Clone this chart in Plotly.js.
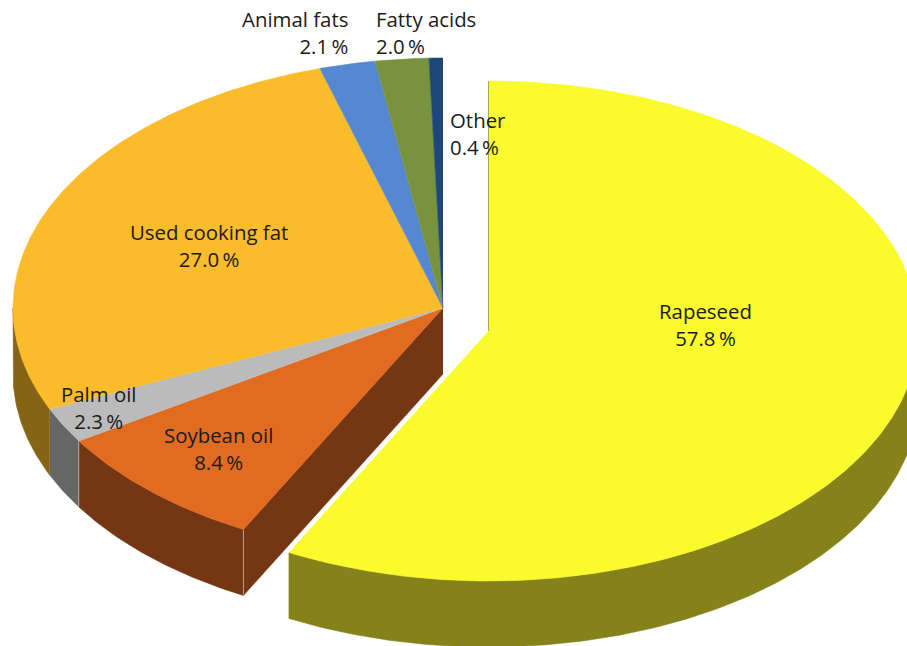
<!DOCTYPE html>
<html>
<head>
<meta charset="utf-8">
<script src="https://cdn.plot.ly/plotly-3.0.1.min.js"></script>
<style>html,body{margin:0;padding:0;background:#fff}#chart{width:907px;height:646px}</style>
</head>
<body>
<div id="chart"></div>
<script>
const categories = ["Rapeseed","Soybean oil","Palm oil","Used cooking fat","Animal fats","Fatty acids","Other"];
const shares = [57.8,8.4,2.3,27.0,2.1,2.0,0.4];
const topColors = ["#FAFA2C","#E06B21","#BBBBBB","#FBBC2B","#5588D0","#79923E","#1F4679"];
const sideColors = ["#85821A","#743613","#666666","#856416","#3A5F92","#556A2B","#14304F"];
const labelX = [705,218,98,209,349,375,449];
const labelY = [324,448,407,245,32,32,133];
const labelAlign = ["center","center","center","center","right","left","left"];

const W = 907, H = 646;
const RX = 430, RY = 250, DEPTH = 66;
const CENTER = {x:443, y:308};
const EXPLODED = {x:488.5, y:331};
const explodedIndex = 0;
const ROTATION = -0.0075;

const total = shares.reduce((a,b)=>a+b,0);
const pt = (c,a,dy=0)=>[c.x+RX*Math.sin(a), c.y-RY*Math.cos(a)+dy];

function arc(c,a0,a1,dy=0){
  const n = Math.max(2,Math.ceil(Math.abs(a1-a0)/0.01));
  const out=[];
  for(let i=0;i<=n;i++) out.push(pt(c,a0+(a1-a0)*i/n,dy));
  return out;
}
function poly(points,color,lw=0.6,lc){
  return {type:'scatter',mode:'lines',x:points.map(p=>p[0]),y:points.map(p=>p[1]),
    fill:'toself',fillcolor:color,line:{color:lc||color,width:lw},hoverinfo:'skip',showlegend:false};
}
function seg(p,q,color,w){
  return {type:'scatter',mode:'lines',x:[p[0],q[0]],y:[p[1],q[1]],line:{color:color,width:w},hoverinfo:'skip',showlegend:false};
}

const angles=[]; let acc=0;
shares.forEach((v,i)=>{
  const a0 = i===0 ? 0 : acc/total*2*Math.PI+ROTATION;
  const a1 = i===shares.length-1 ? 2*Math.PI : (acc+v)/total*2*Math.PI+ROTATION;
  angles.push([a0,a1]); acc+=v;
});

const sideTraces=[], topTraces=[], seamTraces=[];
angles.forEach((ang,i)=>{
  const c = i===explodedIndex?EXPLODED:CENTER;
  if(i===1){
    const edge = pt(c,ang[0]);
    sideTraces.push(poly([[c.x,c.y],edge,[edge[0],edge[1]+DEPTH],[c.x,c.y+DEPTH]],sideColors[i]));
  }
  const lo=Math.max(ang[0],Math.PI/2), hi=Math.min(ang[1],3*Math.PI/2);
  if(hi>lo){
    const upper=arc(c,lo,hi), lower=arc(c,hi,lo,DEPTH);
    sideTraces.push(poly(upper.concat(lower),sideColors[i]));
    if(i!==explodedIndex && i<3){
      const e=pt(c,ang[0]);
      seamTraces.push(seg(e,[e[0],e[1]+DEPTH],'rgba(255,255,255,0.45)',1));
    }
  }
  topTraces.push(poly([[c.x,c.y]].concat(arc(c,ang[0],ang[1])),topColors[i]));
});
const expTop=pt(EXPLODED,0);
const expEdge=seg([EXPLODED.x,EXPLODED.y],expTop,'#A9A84A',1);

const annotations = categories.map((c,i)=>({
  x:labelX[i],y:labelY[i],xref:'x',yref:'y',xanchor:labelAlign[i]==='center'?'center':(labelAlign[i]==='right'?'right':'left'),
  yanchor:'middle',align:labelAlign[i],showarrow:false,
  text:c+'<br>'+shares[i].toFixed(1)+'\u2009%',
  font:{family:'"Open Sans",sans-serif',size:20.4,color:'#1a1a1a'},borderpad:0
}));

const layout={
  width:W,height:H,margin:{l:0,r:0,t:0,b:0},paper_bgcolor:'#fff',plot_bgcolor:'#fff',showlegend:false,
  xaxis:{range:[0,W],visible:false,fixedrange:true},
  yaxis:{range:[H,0],visible:false,fixedrange:true},
  annotations:annotations
};
Plotly.newPlot('chart',[...sideTraces,...seamTraces,...topTraces,expEdge],layout,{displayModeBar:false,staticPlot:true});
</script>
</body>
</html>
